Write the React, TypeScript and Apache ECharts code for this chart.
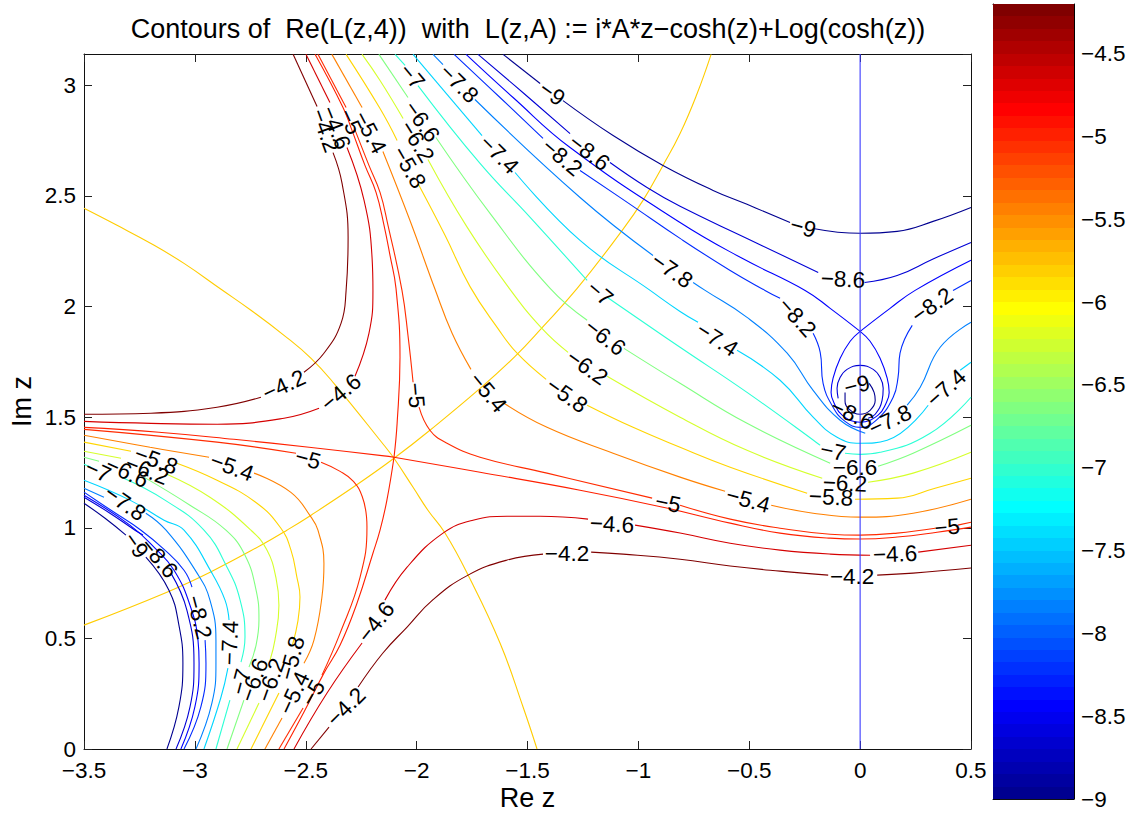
import React, { useEffect, useRef } from "react";
import * as echarts from "echarts";

const titleText = "Contours of  Re(L(z,4))  with  L(z,A) := i*A*z\u2212cosh(z)+Log(cosh(z))";
const xName = "Re z";
const yName = "Im z";

// each level: pieces of a contour, broken where the in-line labels sit
const levelM9 = [
  [[-1.61,3.14],[-1.443,3.008]],
  [[-1.34,2.931],[-1.114,2.773],[-0.889,2.638],[-0.663,2.525],[-0.51,2.462],[-0.316,2.38]],
  [[-0.212,2.353],[0,2.331],[0.167,2.34],[0.329,2.385],[0.5,2.448]],
  [[-0.068,1.612],[-0.068,1.572],[-0.05,1.536],[0,1.513],[0.045,1.531],[0.068,1.576],[0.063,1.612],[0.041,1.653]],
  [[-3.5,1.111],[-3.405,1.043],[-3.311,0.967]],
  [[-3.221,0.867],[-3.117,0.718],[-3.072,0.56],[-3.054,0.388],[-3.072,0.19],[-3.126,0]],
];
const levelM86 = [
  [[-1.723,3.14],[-1.516,2.963],[-1.308,2.782]],
  [[-1.128,2.651],[-0.961,2.538],[-0.812,2.453],[-0.51,2.308],[-0.189,2.154]],
  [[0.02,2.109],[0.167,2.14],[0.329,2.215],[0.5,2.29]],
  [[-0.099,1.585],[-0.104,1.631],[-0.09,1.68],[-0.059,1.716],[0,1.734],[0.059,1.716],[0.09,1.68],[0.104,1.631],[0.099,1.576],[0.068,1.513],[0.036,1.495]],
  [[-3.5,1.138],[-3.383,1.066],[-3.27,0.989],[-3.234,0.967]],
  [[-3.108,0.795],[-3.036,0.628],[-3.004,0.388],[-3.022,0.19],[-3.085,0]],
];
const levelM82 = [
  [[-1.831,3.14],[-1.624,2.945],[-1.43,2.76]],
  [[-1.263,2.615],[-1.037,2.462],[-0.812,2.308],[-0.586,2.163],[-0.429,2.073],[-0.361,2.037]],
  [[-0.212,1.879],[-0.18,1.793],[-0.167,1.653],[-0.122,1.545],[-0.068,1.481],[0,1.454],[0.077,1.49],[0.149,1.59],[0.171,1.68],[0.18,1.789],[0.235,1.915]],
  [[0.419,2.073],[0.5,2.118]],
  [[-3.5,1.161],[-3.378,1.079],[-3.243,0.989],[-3.135,0.899],[-3.049,0.808],[-3.013,0.732]],
  [[-2.954,0.492],[-2.95,0.388],[-2.973,0.19],[-3.049,0]],
];
const levelM78 = [
  [[-1.926,3.14],[-1.881,3.094]],
  [[-1.737,2.936],[-1.263,2.493],[-0.934,2.231]],
  [[-0.753,2.109],[-0.699,2.073],[-0.51,1.951],[-0.329,1.789],[-0.212,1.621],[-0.09,1.486],[0.023,1.427]],
  [[0.212,1.554],[0.271,1.635],[0.361,1.816],[0.5,1.929]],
  [[-3.5,1.179],[-3.41,1.138]],
  [[-3.221,1.066],[-3.13,0.989],[-2.99,0.795],[-2.932,0.673],[-2.905,0.492],[-2.905,0.388],[-2.923,0.208],[-2.995,0]],
];
const levelM74 = [
  [[-2.016,3.14],[-1.705,2.773]],
  [[-1.556,2.606],[-1.263,2.299],[-0.947,2.073],[-0.812,1.978],[-0.731,1.929]],
  [[-0.555,1.802],[-0.361,1.667],[-0.212,1.5],[-0.104,1.409],[0,1.382],[0.122,1.396],[0.307,1.554]],
  [[0.451,1.712],[0.5,1.748]],
  [[-3.5,1.215],[-3.293,1.125],[-3.139,1.034],[-3.049,0.989],[-2.923,0.795],[-2.864,0.673],[-2.846,0.583]],
  [[-2.851,0.366],[-2.882,0.235],[-2.959,0]],
];
const levelM7 = [
  [[-2.097,3.14],[-2.052,3.09]],
  [[-1.994,2.999],[-1.714,2.647],[-1.488,2.403],[-1.231,2.118]],
  [[-1.141,2.042],[-0.812,1.816],[-0.51,1.612],[-0.18,1.373]],
  [[-0.068,1.337],[0,1.332],[0.09,1.341],[0.316,1.427],[0.5,1.59]],
  [[-3.5,1.287],[-3.469,1.274]],
  [[-3.333,1.229],[-3.135,1.125],[-2.959,0.989],[-2.855,0.822],[-2.796,0.673],[-2.774,0.506],[-2.792,0.393]],
  [[-2.842,0.221],[-2.905,0]],
];
const levelM66 = [
  [[-2.17,3.14],[-2.039,2.945]],
  [[-1.913,2.764],[-1.669,2.421],[-1.398,2.082],[-1.231,1.938]],
  [[-1.065,1.811],[-0.812,1.653],[-0.51,1.472],[-0.135,1.292]],
  [[0.081,1.278],[0.239,1.337],[0.5,1.463]],
  [[-3.5,1.319],[-3.432,1.301]],
  [[-3.23,1.229],[-3.022,1.102],[-2.86,0.989],[-2.774,0.876],[-2.724,0.718],[-2.711,0.583],[-2.724,0.47],[-2.756,0.37]],
  [[-2.779,0.221],[-2.855,0]],
];
const levelM62 = [
  [[-2.246,3.14],[-2.165,3.022],[-2.061,2.85]],
  [[-1.949,2.665],[-1.773,2.36],[-1.588,2.09],[-1.434,1.9],[-1.317,1.793]],
  [[-1.141,1.685],[-0.812,1.5],[-0.51,1.35],[-0.171,1.224]],
  [[0.036,1.206],[0.239,1.247],[0.5,1.341]],
  [[-3.5,1.346],[-3.333,1.314]],
  [[-3.126,1.242],[-2.932,1.138],[-2.747,0.989],[-2.675,0.899],[-2.634,0.772],[-2.621,0.65],[-2.639,0.492],[-2.661,0.402]],
  [[-2.711,0.208],[-2.81,0]],
];
const levelM58 = [
  [[-2.318,3.14],[-2.165,2.895],[-2.088,2.751]],
  [[-1.994,2.556],[-1.872,2.322],[-1.759,2.09],[-1.637,1.906],[-1.547,1.789],[-1.416,1.671]],
  [[-1.231,1.554],[-1.024,1.454],[-0.812,1.364],[-0.586,1.274],[-0.239,1.156]],
  [[-0.023,1.129],[0.167,1.134],[0.338,1.179],[0.5,1.224]],
  [[-3.5,1.387],[-3.288,1.346]],
  [[-3.081,1.292],[-2.9,1.215],[-2.72,1.111],[-2.612,0.998],[-2.567,0.9],[-2.54,0.777],[-2.526,0.687],[-2.535,0.58],[-2.56,0.47]],
  [[-2.621,0.253],[-2.747,0]],
];
const levelM54 = [
  [[-2.382,3.14],[-2.246,2.9]],
  [[-2.152,2.701],[-2.03,2.389],[-1.917,2.078],[-1.84,1.879],[-1.755,1.716]],
  [[-1.606,1.563],[-1.412,1.454],[-1.114,1.337],[-0.812,1.229],[-0.609,1.165]],
  [[-0.401,1.102],[-0.212,1.066],[0,1.048],[0.239,1.066],[0.5,1.129]],
  [[-3.5,1.418],[-3.202,1.364],[-2.936,1.319]],
  [[-2.733,1.247],[-2.567,1.16],[-2.476,1.048],[-2.445,0.989],[-2.418,0.84],[-2.427,0.687],[-2.463,0.492],[-2.508,0.388]],
  [[-2.607,0.14],[-2.684,0]],
];
const levelM5 = [
  [[-2.445,3.14],[-2.318,2.9]],
  [[-2.282,2.809],[-2.215,2.638],[-2.165,2.516],[-2.129,2.367],[-2.066,2.073],[-2.039,1.87],[-2.016,1.658]],
  [[-1.989,1.545],[-1.94,1.441],[-1.863,1.382],[-1.714,1.319],[-1.412,1.247],[-0.938,1.134]],
  [[-0.812,1.102],[-0.586,1.039],[-0.361,0.998],[-0.135,0.971],[0,0.967],[0.167,0.976],[0.338,0.998]],
  [[0.44,1.012],[0.5,1.025]],
  [[-3.5,1.445],[-2.9,1.387],[-2.544,1.337]],
  [[-2.431,1.296],[-2.345,1.255],[-2.285,1.21],[-2.245,1.14],[-2.226,1.05],[-2.224,1.003],[-2.255,0.777],[-2.345,0.524],[-2.427,0.334]],
  [[-2.512,0.185],[-2.621,0]],
];
const levelM46 = [
  [[-2.499,3.14],[-2.391,2.922]],
  [[-2.314,2.719],[-2.237,2.48],[-2.201,2.222],[-2.197,2.073],[-2.215,1.879],[-2.278,1.685]],
  [[-2.44,1.54],[-2.598,1.495],[-2.9,1.468],[-3.198,1.472],[-3.5,1.481]],
  [[-2.553,0],[-2.404,0.253],[-2.246,0.479]],
  [[-2.143,0.673],[-2.043,0.822],[-1.881,0.976],[-1.746,1.034],[-1.592,1.052],[-1.443,1.052],[-1.227,1.039]],
  [[-1.015,1.012],[-0.812,0.976],[-0.586,0.93],[-0.361,0.899],[-0.135,0.881],[0.045,0.876]],
  [[0.262,0.89],[0.5,0.921]],
];
const levelM42 = [
  [[-2.557,3.14],[-2.449,2.904]],
  [[-2.377,2.696],[-2.336,2.556],[-2.309,2.313],[-2.318,2.073],[-2.341,1.924],[-2.418,1.789],[-2.508,1.703]],
  [[-2.702,1.59],[-2.9,1.545],[-3.198,1.518],[-3.5,1.513]],
  [[-2.476,0],[-2.395,0.099]],
  [[-2.264,0.28],[-2.152,0.434],[-2.043,0.551],[-1.926,0.675],[-1.768,0.786],[-1.592,0.854],[-1.43,0.881]],
  [[-1.213,0.89],[-1.069,0.881],[-0.812,0.858],[-0.586,0.827],[-0.361,0.804],[-0.144,0.786]],
  [[0.077,0.786],[0.239,0.795],[0.5,0.818]],
];

// level lines through the two saddle points
const saddleRed = [
  [[-2.458,3.14],[-2.332,2.9],[-2.296,2.809],[-2.233,2.638],[-2.183,2.516],[-2.147,2.367],[-2.12,2.231],[-2.093,2.082],[-2.075,1.771],[-2.088,1.472],[-2.102,1.319]],
  [[-2.102,1.319],[-2.134,1.125],[-2.165,0.989],[-2.197,0.885],[-2.269,0.659],[-2.345,0.47],[-2.418,0.343],[-2.508,0.167],[-2.598,0]],
  [[-3.5,1.454],[-3.162,1.432],[-2.824,1.4],[-2.485,1.364],[-2.147,1.325],[-2.102,1.319]],
  [[-2.102,1.319],[-1.714,1.251],[-1.263,1.17],[-0.889,1.093],[-0.586,1.021],[-0.361,0.976],[-0.135,0.953],[0,0.949],[0.167,0.958],[0.347,0.98],[0.5,1.003]],
];
const saddleBlue = [
  [[-1.777,3.14],[-1.565,2.945],[-1.308,2.719],[-0.812,2.38],[-0.532,2.218],[-0.248,2.073],[-0.135,1.992],[0,1.888]],
  [[0,1.888],[0.135,1.992],[0.248,2.073],[0.5,2.209]],
  [[0,1.888],[-0.045,1.843],[-0.09,1.766],[-0.122,1.676],[-0.131,1.612],[-0.117,1.563],[-0.081,1.509],[0,1.477],[0.081,1.509],[0.117,1.563],[0.131,1.612],[0.122,1.676],[0.09,1.766],[0.045,1.843],[0,1.888]],
  [[-3.5,1.147],[-3.293,1.012],[-3.18,0.908],[-3.094,0.808],[-3.022,0.65],[-2.986,0.492],[-2.981,0.388],[-3.0,0.19],[-3.063,0]],
];
const goldFalling = [[-3.5,2.444],[-3.351,2.367],[-3.198,2.285],[-3.049,2.195],[-2.882,2.078],[-2.747,1.983],[-2.598,1.87],[-2.476,1.766],[-2.373,1.653],[-2.147,1.373],[-2.102,1.314],[-2.016,1.183],[-1.949,1.079],[-1.872,0.976],[-1.768,0.786],[-1.624,0.479],[-1.52,0.19],[-1.457,0]];
const goldRising = [[-3.5,0.56],[-3.126,0.709],[-2.914,0.808],[-2.702,0.921],[-2.585,0.989],[-2.476,1.057],[-2.26,1.201],[-2.102,1.314],[-1.94,1.441],[-1.714,1.63],[-1.556,1.775],[-1.434,1.905],[-1.276,2.082],[-1.083,2.331],[-0.979,2.48],[-0.889,2.638],[-0.812,2.782],[-0.735,2.963],[-0.672,3.14]];
const verticalBlue = [[0,0],[0,3.1416]];

const labelX = [-1.389,-1.222,-1.344,-1.809,-1.628,-2.021,-1.976,-1.998,-2.034,-2.21,-2.3,-2.364,-2.413,-0.257,-0.077,-0.848,-0.284,0.325,-0.645,0.388,-0.014,-0.036,0.135,-0.122,-0.023,-0.068,-0.131,-0.505,0.392,0.158,-0.036,-0.866,-1.119,-1.322,-2.183,-2.318,-2.467,-2.553,-2.562,-2.657,-2.733,-2.792,-2.842,-2.981,-3.162,-3.266,-3.315,-3.437,-3.306,-3.216,-3.175,-2.833,-2.49,-2.341,-2.598,-2.003,-1.678,-1.322,-1.231,-1.15,-1.173];
const labelY = [2.963,2.696,2.674,3.008,2.687,3.04,2.836,2.746,2.629,2.787,2.836,2.809,2.796,2.358,2.123,2.163,1.951,2.005,1.852,1.631,1.644,1.513,1.486,1.346,1.274,1.201,1.138,1.125,1.003,0.881,0.781,1.111,1.016,0.885,0.574,0.19,0.253,0.253,0.411,0.312,0.312,0.303,0.479,0.596,0.863,0.921,1.111,1.256,1.251,1.26,1.305,1.274,1.31,1.612,1.644,1.599,1.612,1.599,1.725,1.861,2.06];
const labelLevel = [-9,-8.6,-8.2,-7.8,-7.4,-7,-6.6,-6.2,-5.8,-5.4,-5,-4.6,-4.2,-9,-8.6,-7.8,-8.2,-8.2,-7.4,-7.4,-9,-8.6,-7.8,-7,-6.6,-6.2,-5.8,-5.4,-5,-4.6,-4.2,-5,-4.6,-4.2,-4.6,-4.2,-5,-5.4,-5.8,-6.2,-6.6,-7,-7.4,-8.2,-8.6,-9,-7.8,-7,-6.6,-6.2,-5.8,-5.4,-5,-4.6,-4.2,-5,-5.4,-5.8,-6.2,-6.6,-7];
const labelAngle = [-35,-37,-40,-45,-45,-50,-55,-58,-60,-62,-65,-68,-70,-15,-3,-35,-48,35,-33,42,15,-25,25,-12,0,-3,-3,-15,5,2,0,-12,-3,0,52,45,60,65,75,70,70,75,88,-75,-50,-55,-35,-25,-25,-22,-20,-20,-15,40,25,-85,-50,-35,-35,-38,-40];

const colorBarColors = [
  "#000090","#0000A0","#0000B0","#0000BF","#0000CF","#0000DF","#0000EF","#0000FF",
  "#0010FF","#0020FF","#0030FF","#0040FF","#0050FF","#0060FF","#0070FF","#0080FF",
  "#0090FF","#00A0FF","#00B0FF","#00BFFF","#00CFFF","#00DFFF","#00EFFF","#00FFFF",
  "#10FFEF","#20FFDF","#30FFCF","#40FFBF","#50FFB0","#60FFA0","#70FF90","#80FF80",
  "#90FF70","#A0FF60","#B0FF50","#BFFF40","#CFFF30","#DFFF20","#EFFF10","#FFFF00",
  "#FFEF00","#FFDF00","#FFCF00","#FFBF00","#FFB000","#FFA000","#FF9000","#FF8000",
  "#FF7000","#FF6000","#FF5000","#FF4000","#FF3000","#FF2000","#FF1000","#FF0000",
  "#EF0000","#DF0000","#CF0000","#BF0000","#B00000","#A00000","#900000","#800000",
];

const contourTable: [any[], string][] = [
  [levelM9, "#000090"], [levelM86, "#0000D5"], [levelM82, "#002BFF"], [levelM78, "#0080FF"],
  [levelM74, "#00D5FF"], [levelM7, "#2BFFD5"], [levelM66, "#80FF80"], [levelM62, "#D5FF2B"],
  [levelM58, "#FFD500"], [levelM54, "#FF8000"], [levelM5, "#FF2B00"], [levelM46, "#D50000"], [levelM42, "#800000"],
  [saddleRed, "#FF2000"], [saddleBlue, "#0000FF"],
];

const FONT = "Liberation Sans";
const FS = 22.5;
const NAME_FS = 27;
const minus = (v: number | string) => String(v).replace("-", "\u2212");
const halfTick = (v: number) => Math.abs(v * 2 - Math.round(v * 2)) < 1e-6;
const tickFmt = (v: number) => (halfTick(v) ? minus(v) : "");

export default function App() {
  const ref = useRef<HTMLDivElement>(null);
  useEffect(() => {
    const chart = echarts.init(ref.current!, undefined, { renderer: "svg", width: 1142, height: 813 });
    const line = (data: any[], color: string, z = 2, smooth: number | boolean = 0.45) => ({
      type: "line", data, xAxisIndex: 0, yAxisIndex: 0, symbol: "none", smooth, z, silent: true,
      lineStyle: { color, width: 1.1 }, clip: true,
    });
    const series: any[] = [
      line(goldFalling, "#FFCC00"),
      line(goldRising, "#FFCC00"),
    ];
    contourTable.forEach(([segments, color]) => segments.forEach((s: any[]) => series.push(line(s, color))));
    series.push(line(verticalBlue, "#3A3AFF", 3, false));
    series.push({
      type: "scatter", xAxisIndex: 0, yAxisIndex: 0, symbolSize: 0, z: 5, silent: true, itemStyle: { opacity: 1 },
      data: labelX.map((x, i) => ({
        value: [x, labelY[i]],
        label: { show: true, position: "inside", formatter: minus(labelLevel[i]), rotate: labelAngle[i], color: "#000", opacity: 1, fontSize: FS, fontFamily: FONT },
      })),
    });
    series.push({
      type: "custom", xAxisIndex: 2, yAxisIndex: 2, silent: true, z: 1, coordinateSystem: "cartesian2d",
      data: colorBarColors.map((c, i) => [i, i + 1]),
      renderItem: (params: any, api: any) => {
        const lo = -9 + api.value(0) * 0.075;
        const hi = -9 + api.value(1) * 0.075;
        const a = api.coord([0, hi]);
        const b = api.coord([1, lo]);
        const top = Math.round(a[1]);
        return {
          type: "rect",
          shape: { x: a[0], y: top, width: b[0] - a[0], height: Math.round(b[1]) - top },
          style: { fill: colorBarColors[params.dataIndex] },
        };
      },
    });
    const tickStyle = { color: "#222", width: 1 };
    const lineStyle = { lineStyle: { color: "#111", width: 1 } };
    const text = { color: "#000", fontSize: FS, fontFamily: FONT };
    chart.setOption({
      animation: false,
      backgroundColor: "#fff",
      title: {
        text: titleText, left: 523, top: 10, textAlign: "center",
        textStyle: { color: "#000", fontSize: NAME_FS, fontWeight: "normal", fontFamily: FONT },
      },
      grid: [
        { left: 84, top: 54, width: 887, height: 695, outerBoundsMode: "none" },
        { left: 993, top: 4, width: 81, height: 795, outerBoundsMode: "none" },
      ],
      xAxis: [
        {
          type: "value", gridIndex: 0, min: -3.5, max: 0.5, interval: 0.5, position: "bottom", scale: true,
          splitLine: { show: false }, axisLine: { show: true, onZero: false, ...lineStyle },
          axisTick: { show: true, inside: true, length: 8, lineStyle: tickStyle },
          axisLabel: { ...text, margin: 10, formatter: tickFmt, showMinLabel: true, showMaxLabel: true },
          name: xName, nameLocation: "middle", nameGap: 35, nameMoveOverlap: false, nameTextStyle: { ...text, fontSize: NAME_FS },
        },
        {
          type: "value", gridIndex: 0, min: -3.5, max: 0.5, interval: 0.5, position: "top",
          splitLine: { show: false }, axisLine: { show: true, onZero: false, ...lineStyle },
          axisTick: { show: true, inside: true, length: 8, lineStyle: tickStyle }, axisLabel: { show: false },
        },
        {
          type: "value", gridIndex: 1, min: 0, max: 1, position: "bottom",
          splitLine: { show: false }, axisLine: { show: true, onZero: false, ...lineStyle },
          axisTick: { show: false }, axisLabel: { show: false },
        },
        {
          type: "value", gridIndex: 1, min: 0, max: 1, position: "top",
          splitLine: { show: false }, axisLine: { show: true, onZero: false, ...lineStyle },
          axisTick: { show: false }, axisLabel: { show: false },
        },
      ],
      yAxis: [
        {
          type: "value", gridIndex: 0, min: 0, max: 3.1416, interval: 0.5, position: "left",
          splitLine: { show: false }, axisLine: { show: true, onZero: false, ...lineStyle },
          axisTick: { show: true, inside: true, length: 8, lineStyle: tickStyle },
          axisLabel: { ...text, margin: 8, formatter: tickFmt, showMaxLabel: false },
          name: yName, nameLocation: "middle", nameGap: 49, nameMoveOverlap: false, nameTextStyle: { ...text, fontSize: NAME_FS },
        },
        {
          type: "value", gridIndex: 0, min: 0, max: 3.1416, interval: 0.5, position: "right",
          splitLine: { show: false }, axisLine: { show: true, onZero: false, ...lineStyle },
          axisTick: { show: true, inside: true, length: 8, lineStyle: tickStyle }, axisLabel: { show: false },
        },
        {
          type: "value", gridIndex: 1, min: -9, max: -4.2, interval: 0.5, position: "right",
          splitLine: { show: false }, axisLine: { show: true, onZero: false, lineStyle: { color: "#000", width: 1 } },
          axisTick: { show: true, inside: true, length: 7, lineStyle: { color: "#000", width: 1, opacity: 0.7 } },
          axisLabel: { ...text, margin: 7, formatter: tickFmt, showMaxLabel: false },
        },
        {
          type: "value", gridIndex: 1, min: -9, max: -4.2, interval: 0.5, position: "left",
          splitLine: { show: false }, axisLine: { show: true, onZero: false, lineStyle: { color: "#000", width: 1 } },
          axisTick: { show: true, inside: true, length: 7, lineStyle: { color: "#000", width: 1, opacity: 0.7 } },
          axisLabel: { show: false },
        },
      ],
      series,
    });
    return () => chart.dispose();
  }, []);
  return <div ref={ref} style={{ position: "fixed", left: 0, top: 0, width: 1142, height: 813, background: "#fff" }} />;
}
